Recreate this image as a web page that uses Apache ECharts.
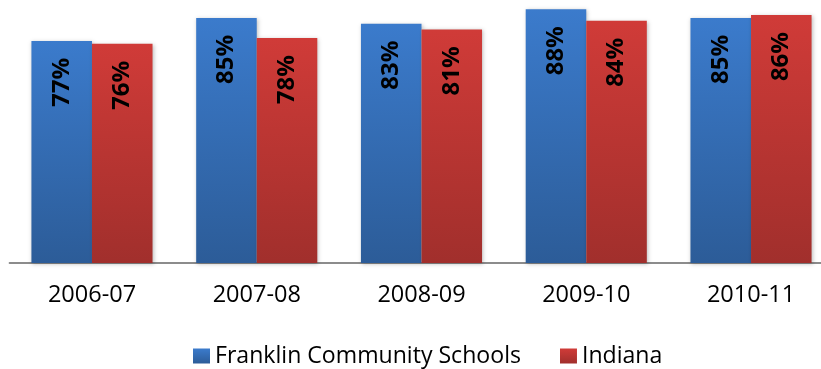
<!DOCTYPE html>
<html>
<head>
<meta charset="utf-8">
<script src="https://cdn.jsdelivr.net/npm/echarts@6/dist/echarts.min.js"></script>
<style>html,body{margin:0;padding:0;background:#fff}#c{width:821px;height:369px}</style>
</head>
<body>
<div id="c"></div>
<script>
const categories = ['2006-07', '2007-08', '2008-09', '2009-10', '2010-11'];
const franklin = [77, 85, 83, 88, 85];
const indiana = [76, 78, 81, 84, 86];
const seriesNames = ['Franklin Community Schools', 'Indiana'];

const chart = echarts.init(document.getElementById('c'), null, {renderer: 'canvas'});
function grad(top, bottom) {
  return new echarts.graphic.LinearGradient(0, 0, 0, 1, [
    {offset: 0, color: top}, {offset: 1, color: bottom}
  ]);
}
const labelCfg = {
  show: true,
  position: 'insideTop',
  rotate: 90,
  align: 'right',
  verticalAlign: 'middle',
  distance: 17,
  formatter: '{c}%',
  color: '#000',
  fontFamily: 'Open Sans',
  fontWeight: 'bold',
  fontSize: 24
};
chart.setOption({
  animation: false,
  grid: {left: 9.6, right: -12.4, top: 3.5, bottom: 106, outerBoundsMode: 'none', containLabel: false},
  legend: {
    left: 193, top: 344.5, padding: 0,
    itemWidth: 17, itemHeight: 15, itemGap: 39,
    icon: 'rect',
    textStyle: {fontFamily: 'Open Sans', fontSize: 23.1, color: '#000', padding: [0, 0, 0, 0]},
    data: seriesNames
  },
  xAxis: {
    type: 'category',
    data: categories,
    axisLine: {lineStyle: {color: '#8c8c8c', width: 2}},
    axisTick: {show: false},
    axisLabel: {color: '#000', fontFamily: 'Open Sans', fontSize: 23.5, margin: 20}
  },
  yAxis: {type: 'value', min: 0, max: 90, show: false, splitLine: {show: false}},
  series: [
    {
      name: seriesNames[0], type: 'bar', data: franklin,
      barGap: '0%', barCategoryGap: '26.5%',
      itemStyle: {color: grad('#3b7bcc', '#2c5c98'), shadowBlur: 4, shadowColor: 'rgba(0,0,0,0.25)', shadowOffsetX: 1, shadowOffsetY: 1},
      label: labelCfg
    },
    {
      name: seriesNames[1], type: 'bar', data: indiana,
      itemStyle: {color: grad('#d03b38', '#a12f2c'), shadowBlur: 4, shadowColor: 'rgba(0,0,0,0.25)', shadowOffsetX: 1, shadowOffsetY: 1},
      label: labelCfg
    }
  ]
});
</script>
</body>
</html>
